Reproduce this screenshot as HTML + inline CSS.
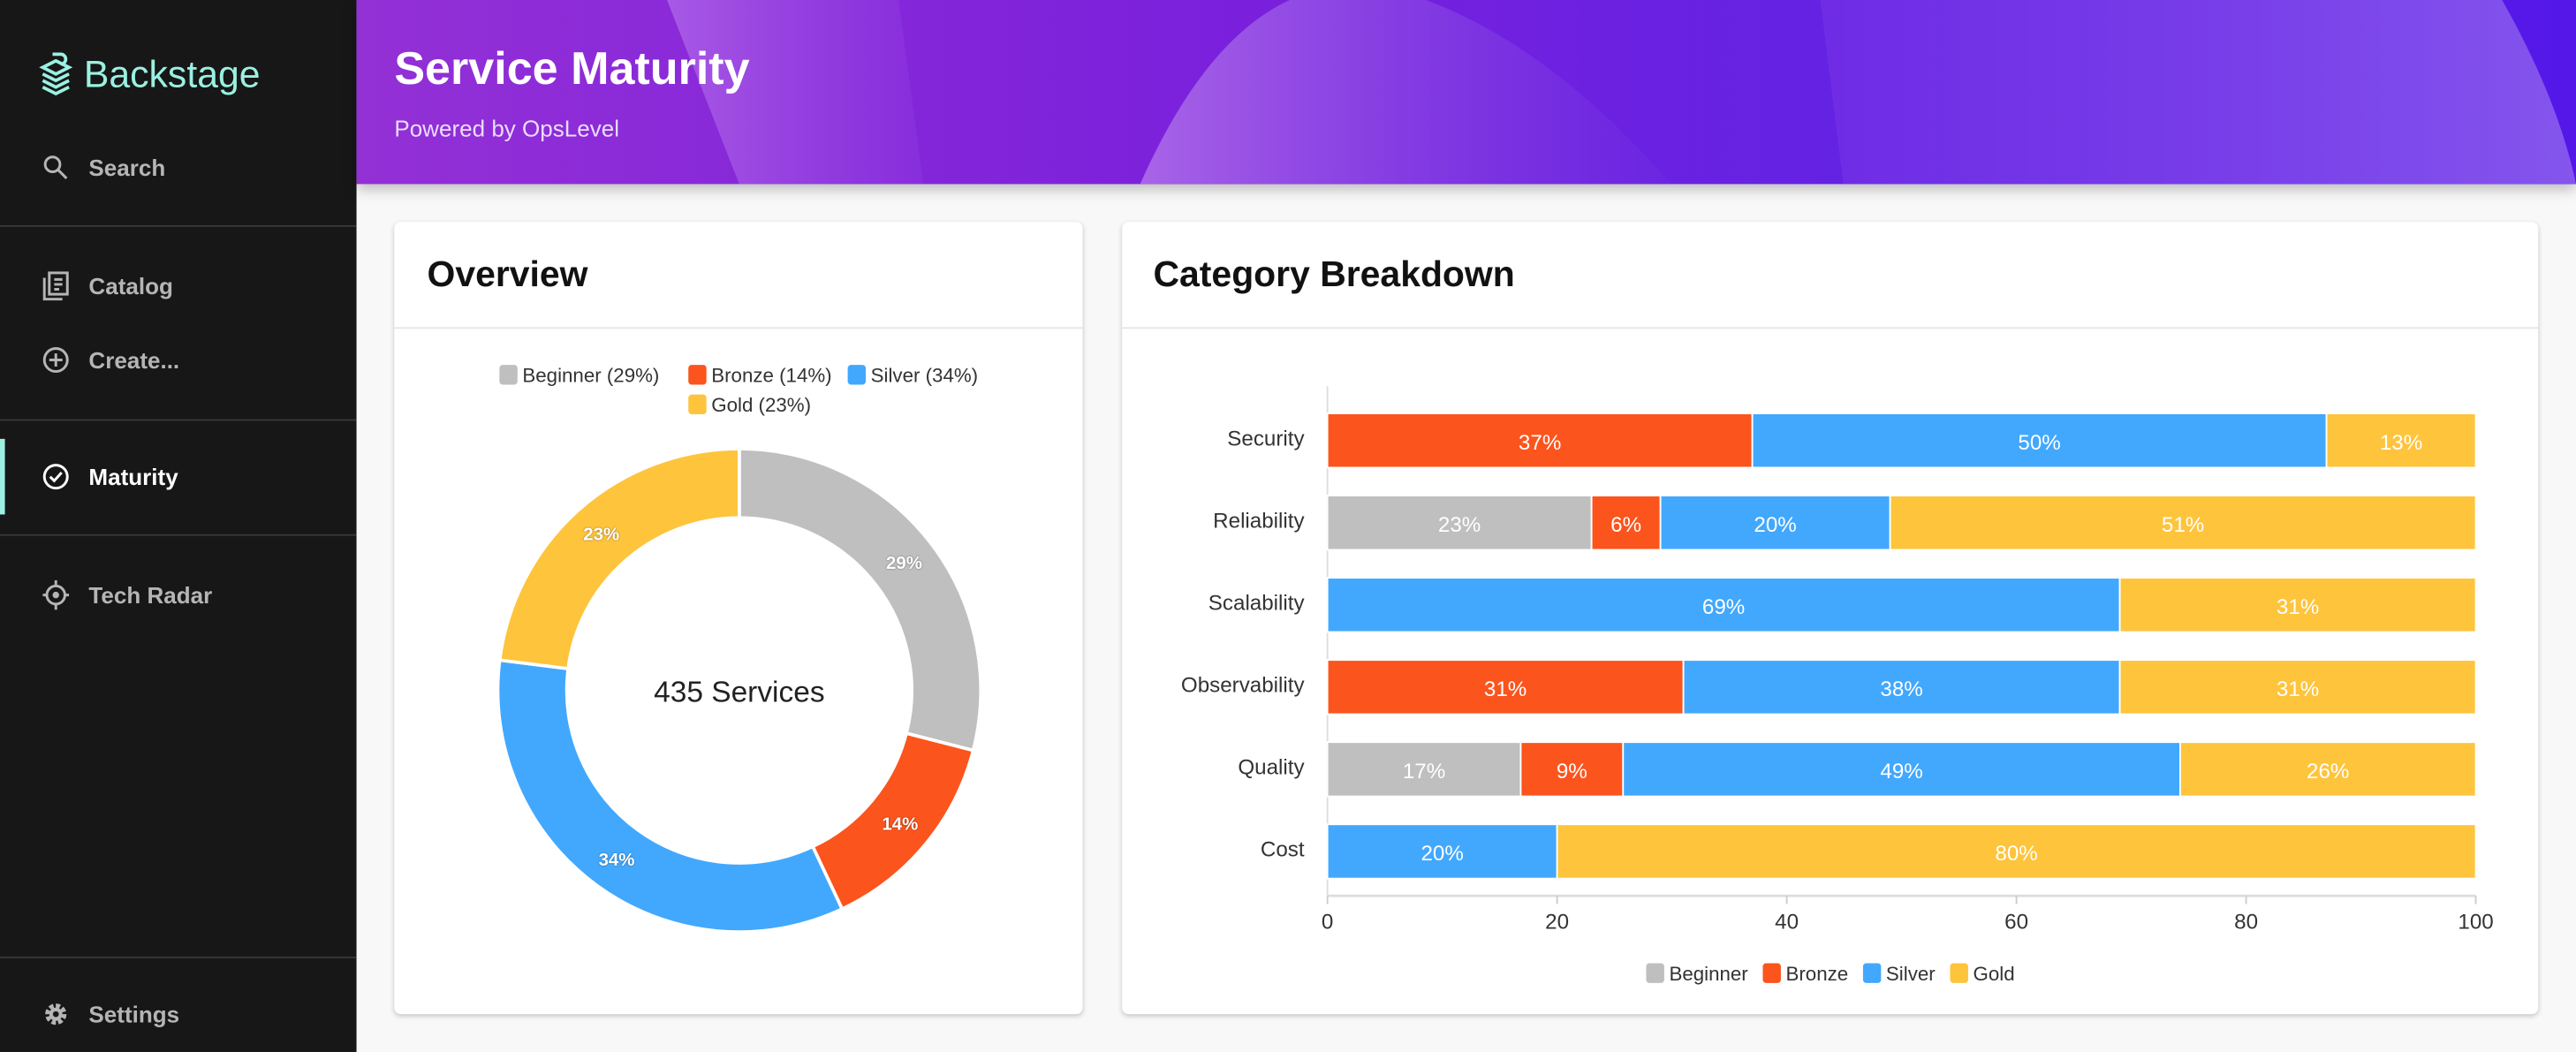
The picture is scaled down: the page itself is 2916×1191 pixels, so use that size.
<!DOCTYPE html>
<html><head><meta charset="utf-8">
<style>
html,body{margin:0;padding:0;width:2916px;height:1191px;overflow:hidden;background:#f8f8f8;font-family:"Liberation Sans",sans-serif;}
#wrap{position:absolute;left:0;top:0;width:1568px;height:640px;transform:scale(1.8597,1.8609);transform-origin:0 0;background:#f8f8f8;}
.sb{position:absolute;left:0;top:0;width:217px;height:640px;background:#171717;}
.item{position:absolute;left:26px;color:#b5b5b5;font-size:14px;font-weight:bold;display:flex;align-items:center;}
.item svg{margin-right:12px}
.div{position:absolute;left:0;width:217px;height:1px;background:#383838;}
.card{position:absolute;background:#fff;border-radius:4px;box-shadow:0 1px 3px rgba(0,0,0,0.2);}
.ct{position:absolute;font-size:22px;font-weight:bold;color:#111;}
.cd{position:absolute;left:0;right:0;top:64px;height:1px;background:#e6e6e6;}
</style></head><body>
<div id="wrap">
<div class="sb">
  <div style="position:absolute;left:23px;top:31px;display:flex;align-items:center;color:#9bf0e1;font-size:23px;">
    <svg width="22" height="28" viewBox="0 0 22 28"><g fill="none" stroke="#9bf0e1" stroke-width="2"><path d="M3 10l8-4 8 4-8 4z"/><path d="M3 14l8 4 8-4"/><path d="M3 18l8 4 8-4"/><path d="M3 22l8 4 8-4"/><path d="M9 2h5a3 3 0 010 6"/></g></svg>
    <span style="margin-left:6px">Backstage</span></div>
  <div class="item" style="top:94px"><svg width="16" height="16" viewBox="0 0 16 16"><circle cx="6" cy="6" r="4.5" fill="none" stroke="#b5b5b5" stroke-width="1.6"/><path d="M9.5 9.5l5 5" stroke="#b5b5b5" stroke-width="1.6"/></svg>Search</div>
  <div class="div" style="top:137px"></div>
  <div class="item" style="top:165px"><svg width="16" height="18" viewBox="0 0 16 18"><rect x="4" y="1" width="11" height="13" fill="none" stroke="#b5b5b5" stroke-width="1.6"/><path d="M1 4v13h11M7 5h5M7 8h5M7 11h3" stroke="#b5b5b5" stroke-width="1.6" fill="none"/></svg>Catalog</div>
  <div class="item" style="top:211px"><svg width="16" height="16" viewBox="0 0 16 16"><circle cx="8" cy="8" r="7" fill="none" stroke="#b5b5b5" stroke-width="1.6"/><path d="M8 4v8M4 8h8" stroke="#b5b5b5" stroke-width="1.6"/></svg>Create...</div>
  <div class="div" style="top:255px"></div>
  <div style="position:absolute;left:0;top:267px;width:3px;height:46px;background:#9bf0e1"></div>
  <div class="item" style="top:282px;color:#fff"><svg width="16" height="16" viewBox="0 0 16 16"><circle cx="8" cy="8" r="7" fill="none" stroke="#fff" stroke-width="1.6"/><path d="M4.5 8l2.5 2.5 4.5-5" stroke="#fff" stroke-width="1.6" fill="none"/></svg>Maturity</div>
  <div class="div" style="top:325px"></div>
  <div class="item" style="top:353px"><svg width="16" height="18" viewBox="0 0 16 18"><circle cx="8" cy="9" r="5.5" fill="none" stroke="#b5b5b5" stroke-width="1.6"/><circle cx="8" cy="9" r="2" fill="#b5b5b5"/><path d="M8 0v3M8 15v3M0 9h2M14 9h2" stroke="#b5b5b5" stroke-width="1.6"/></svg>Tech Radar</div>
  <div class="div" style="top:582px"></div>
  <div class="item" style="top:609px"><svg width="16" height="16" viewBox="0 0 16 16"><circle cx="8" cy="8" r="5" fill="none" stroke="#b5b5b5" stroke-width="3" stroke-dasharray="2.5 1.4"/><circle cx="8" cy="8" r="4" fill="#b5b5b5"/><circle cx="8" cy="8" r="1.8" fill="#171717"/></svg>Settings</div>
</div>

<div style="position:absolute;left:217px;top:0;width:1351px;height:112px;overflow:hidden;background:linear-gradient(90deg,#9330d6 0%,#7a20dc 40%,#6122e4 70%,#5417e8 100%);box-shadow:0 3px 8px rgba(0,0,0,0.25);">
  <svg width="1351" height="112" style="position:absolute;left:0;top:0">
    <defs><linearGradient id="g1" x1="0" x2="1"><stop offset="0" stop-color="#b070ea" stop-opacity="0.85"/><stop offset="1" stop-color="#7030e0" stop-opacity="0.3"/></linearGradient>
    <linearGradient id="g2" x1="0" x2="1"><stop offset="0" stop-color="#7a35e6" stop-opacity="0.5"/><stop offset="1" stop-color="#9a70f0" stop-opacity="0.7"/></linearGradient>
    <linearGradient id="g0" x1="0" x2="1"><stop offset="0" stop-color="#c080f0" stop-opacity="0.55"/><stop offset="1" stop-color="#9a50e6" stop-opacity="0.2"/></linearGradient></defs>
    <path d="M189 0 L330 0 L345 112 L233 112Z" fill="url(#g0)"/>
    <path d="M477 112 Q540 -30 636 -5 Q720 20 800 112Z" fill="url(#g1)"/>
    <path d="M891 0 L1306 0 Q1340 60 1351 112 L905 112Z" fill="url(#g2)"/>
  </svg>
  <div style="position:absolute;left:23px;top:26px;color:#fff;font-size:28px;font-weight:bold;">Service Maturity</div>
  <div style="position:absolute;left:23px;top:70px;color:#eadcfb;font-size:14px;">Powered by OpsLevel</div>
</div>

<div class="card" style="left:240px;top:135px;width:419px;height:482px">
  <div class="ct" style="left:20px;top:19px">Overview</div>
  <div class="cd"></div>
  <svg id="donut" width="419" height="482" style="position:absolute;left:0;top:0"></svg>
</div>

<div class="card" style="left:683px;top:135px;width:862px;height:482px">
  <div class="ct" style="left:19px;top:19px">Category Breakdown</div>
  <div class="cd"></div>
  <svg id="bars" width="862" height="482" style="position:absolute;left:0;top:0"></svg>
</div>
</div>

<script>
const levels = ["Beginner","Bronze","Silver","Gold"];
const colors = ["#bfbfbf","#fc541d","#42a8fd","#fec43c"];
const overviewValues = [29,14,34,23];
const totalServices = 435;
const categories = ["Security","Reliability","Scalability","Observability","Quality","Cost"];
const beginnerVals = [0,23,0,0,17,0];
const bronzeVals = [37,6,0,31,9,0];
const silverVals = [50,20,69,38,49,20];
const goldVals = [13,51,31,31,26,80];
const xTicks = [0,20,40,60,80,100];

const NS="http://www.w3.org/2000/svg";
function mk(parent,tag,attrs,text){const e=document.createElementNS(NS,tag);for(const k in attrs)e.setAttribute(k,attrs[k]);if(text!==undefined)e.textContent=text;parent.appendChild(e);return e;}
const F='"Liberation Sans",sans-serif';

// donut
(function(){
 const s=document.getElementById('donut');
 const rows=[[0,1,2],[3]];
 const widths=[115,97,88,70];
 rows.forEach((r,ri)=>{
   const tot=r.reduce((a,i)=>a+widths[i],0);let x=214-tot/2;const y=93+ri*18;
   r.forEach(i=>{
     const g=mk(s,'g',{});
     
     
     mk(g,'rect',{x:x,y:y-6,width:11,height:12,rx:2,fill:colors[i]});
     mk(g,'text',{x:x+14,y:y+4.5,'font-size':12,fill:'#333','font-family':F},levels[i]+' ('+overviewValues[i]+'%)');
     x+=widths[i];
   });
 });
 const cx=210,cy=285,R=147,r=105;
 const total=overviewValues.reduce((a,b)=>a+b,0);
 let a0=0;
 overviewValues.forEach((v,i)=>{
   const a1=a0+v/total*2*Math.PI;
   const p=(rad,ang)=>[cx+rad*Math.sin(ang),cy-rad*Math.cos(ang)];
   const large=(a1-a0)>Math.PI?1:0;
   const [x1,y1]=p(R,a0),[x2,y2]=p(R,a1),[x3,y3]=p(r,a1),[x4,y4]=p(r,a0);
   const path=mk(s,'path',{d:`M${x1} ${y1}A${R} ${R} 0 ${large} 1 ${x2} ${y2}L${x3} ${y3}A${r} ${r} 0 ${large} 0 ${x4} ${y4}Z`,fill:colors[i],stroke:'#fff','stroke-width':2});
   
   
   const am=(a0+a1)/2;const [lx,ly]=p((R+r)/2+1,am);
   const t=mk(s,'text',{x:lx,y:ly+4,'font-size':11,'font-weight':'bold',fill:'#fff','text-anchor':'middle','font-family':F,style:'text-shadow:0 0 2px rgba(0,0,0,0.5)'},v+'%');
   
   
   a0=a1;
 });
 const c=mk(s,'text',{x:cx,y:cy+7,'font-size':18,fill:'#222','text-anchor':'middle','font-family':F},totalServices+' Services');
 
 
})();

// bars
(function(){
 const s=document.getElementById('bars');
 const x0=125,x1=824; const xs=v=>x0+(x1-x0)*v/100;
 const yTop=108,band=50; const yc=i=>yTop+band*(i+0.5); const bh=33;
 mk(s,'line',{x1:x0,y1:yTop-8,x2:x0,y2:410,stroke:'#ddd','stroke-width':1});
 mk(s,'line',{x1:x0,y1:410,x2:x1,y2:410,stroke:'#ddd','stroke-width':1.5});
 xTicks.forEach(t=>{
   mk(s,'line',{x1:xs(t),y1:410,x2:xs(t),y2:415,stroke:'#ccc'});
   const tx=mk(s,'text',{x:xs(t),y:430,'font-size':13,fill:'#333','text-anchor':'middle','font-family':F},t);
   
   
 });
 const series=[beginnerVals,bronzeVals,silverVals,goldVals];
 categories.forEach((c,i)=>{
   const lab=mk(s,'text',{x:111,y:yc(i)+3,'font-size':13,fill:'#333','text-anchor':'end','font-family':F},c);
   
   
   const sum=series.reduce((a,ser)=>a+ser[i],0);
   let acc=0;
   series.forEach((ser,k)=>{
     const v=ser[i]; if(!v) return;
     const a=xs(acc/sum*100), b=xs((acc+v)/sum*100);
     const rect=mk(s,'rect',{x:a,y:yc(i)-bh/2,width:b-a,height:bh,fill:colors[k],stroke:'#fff','stroke-width':1});
     
     
     const t=mk(s,'text',{x:(a+b)/2,y:yc(i)+5.5,'font-size':13,fill:'#fff','text-anchor':'middle','font-family':F},v+'%');
     
     
     acc+=v;
   });
 });
 const lw=[71,61,53,40]; let x=319;
 levels.forEach((l,i)=>{
   const g=mk(s,'g',{});
   
   
   mk(g,'rect',{x:x,y:451,width:11,height:12,rx:2,fill:colors[i]});
   mk(g,'text',{x:x+14,y:461.5,'font-size':12,fill:'#333','font-family':F},l);
   x+=lw[i];
 });
})();
</script>
</body></html>
